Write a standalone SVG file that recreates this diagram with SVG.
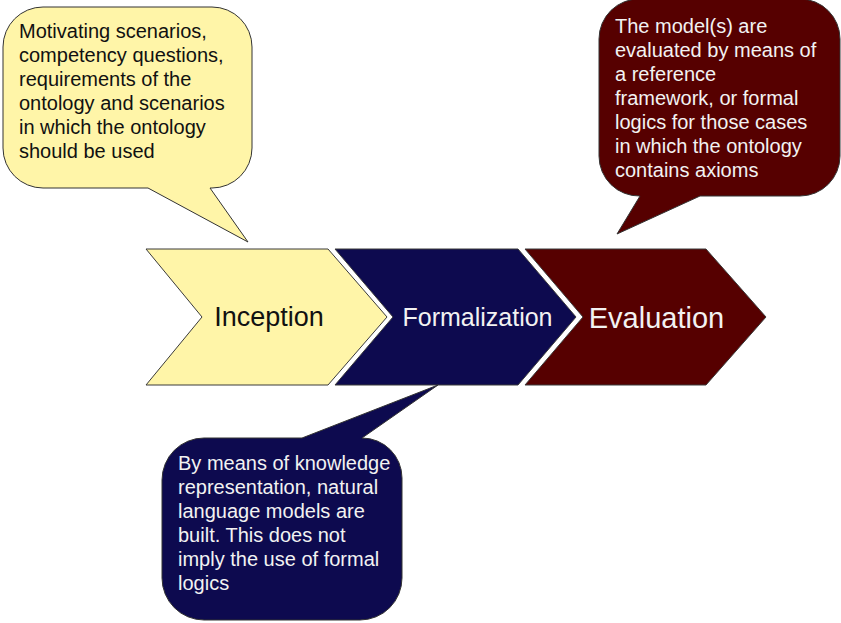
<svg xmlns="http://www.w3.org/2000/svg" width="841" height="623" viewBox="0 0 841 623">
<style>
  .chev{stroke:#3a3a3a;stroke-width:1}
  .call{stroke:#333;stroke-width:1;stroke-linejoin:miter}
  .t{font-family:"Liberation Sans",Arial,sans-serif;font-size:20px}
  .lbl{font-family:"Liberation Sans",Arial,sans-serif;text-anchor:middle}
  .yel{fill:#fff5a8}
  .nav{fill:#0d0a4f}
  .red{fill:#560000}
  .dk{fill:#111}
  .lt{fill:#f2f2f2}
</style>
<rect width="841" height="623" fill="#fff"/>
<g id="inception">
  <polygon class="chev yel" points="146,249 328,249 387,317 328,385 146,385 202,317"/>
  <text class="lbl dk" x="269" y="326" font-size="27">Inception</text>
</g>
<g id="formalization">
  <polygon class="chev nav" points="335,249 518,249 576,317 518,385 335,385 393,317"/>
  <text class="lbl lt" x="477.5" y="326" font-size="25">Formalization</text>
</g>
<g id="evaluation">
  <polygon class="chev red" points="525,249 706,249 766,317 706,385 525,385 583,317"/>
  <text class="lbl lt" x="656.5" y="328" font-size="29">Evaluation</text>
</g>
<g id="connectors"></g>
<g id="callout-inception">
  <path class="call yel" d="M43 7 H212 A40 40 0 0 1 252 47 V148 A40 40 0 0 1 212 188 H210 L248 242 L148 188 H43 A40 40 0 0 1 3 148 V47 A40 40 0 0 1 43 7 Z"/>
  <text class="t dk" x="19">
    <tspan x="19" y="38">Motivating scenarios,</tspan>
    <tspan x="19" y="62">competency questions,</tspan>
    <tspan x="19" y="86">requirements of the</tspan>
    <tspan x="19" y="110">ontology and scenarios</tspan>
    <tspan x="19" y="134">in which the ontology</tspan>
    <tspan x="19" y="158">should be used</tspan>
  </text>
</g>
<g id="callout-evaluation">
  <path class="call red" d="M640 -1 H800 A40 40 0 0 1 840 39 V156 A40 40 0 0 1 800 196 H700 L617 234 L640 196 A40 40 0 0 1 599 156 V39 A40 40 0 0 1 640 -1 Z"/>
  <text class="t lt">
    <tspan x="615" y="33">The model(s) are</tspan>
    <tspan x="615" y="57">evaluated by means of</tspan>
    <tspan x="615" y="81">a reference</tspan>
    <tspan x="615" y="105">framework, or formal</tspan>
    <tspan x="615" y="129">logics for those cases</tspan>
    <tspan x="615" y="153">in which the ontology</tspan>
    <tspan x="615" y="177">contains axioms</tspan>
  </text>
</g>
<g id="callout-formalization">
  <path class="call nav" d="M204 438 H302 L438 385 L362 438 A40 40 0 0 1 402 478 V578 A42 42 0 0 1 360 620 H204 A42 42 0 0 1 162 578 V480 A42 42 0 0 1 204 438 Z"/>
  <text class="t lt">
    <tspan x="178" y="470">By means of knowledge</tspan>
    <tspan x="178" y="494">representation, natural</tspan>
    <tspan x="178" y="518">language models are</tspan>
    <tspan x="178" y="542">built. This does not</tspan>
    <tspan x="178" y="566">imply the use of formal</tspan>
    <tspan x="178" y="590">logics</tspan>
  </text>
</g>
</svg>
